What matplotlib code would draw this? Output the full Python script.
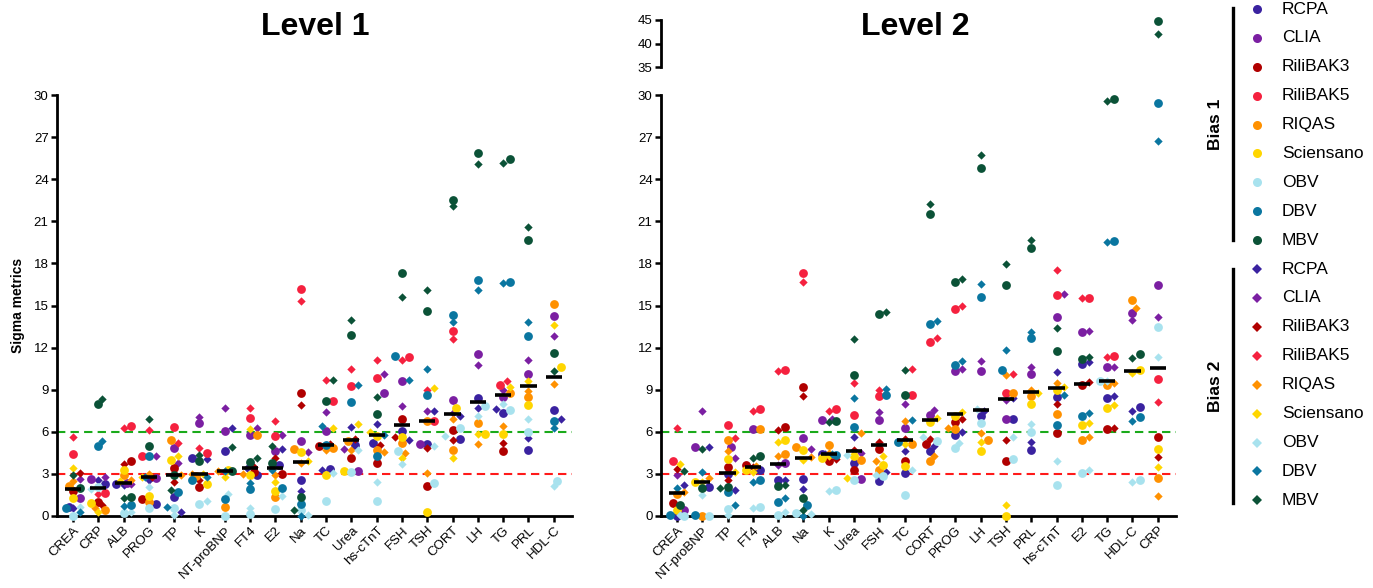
import numpy as np
import matplotlib
matplotlib.use("Agg")
from matplotlib import pyplot as plt
from matplotlib.lines import Line2D

plt.rcParams['font.family'] = ['Liberation Sans', 'DejaVu Sans']

nan = np.nan

sources = ["RCPA", "CLIA", "RiliBAK3", "RiliBAK5", "RIQAS", "Sciensano", "OBV", "DBV", "MBV"]
colors = ["#3a22a0", "#7b1fa2", "#b00000", "#f5213f", "#ff9100",
          "#ffd600", "#a8e2ee", "#0a76a0", "#0b5237"]

# level 1 analytes, one row per analyte, columns follow `sources`
level1_names = ["CREA", "CRP", "ALB", "PROG", "TP", "K", "NT-proBNP", "FT4", "E2", "Na",
                "TC", "Urea", "hs-cTnT", "FSH", "TSH", "CORT", "LH", "TG", "PRL", "HDL-C"]

level1_bias1 = [
    [0.65, 1.3, 1.8, 4.4, 2.15, 1.25, 0.0, 0.55, 2.0],
    [2.3, 2.65, 1.0, 1.65, 0.45, 0.9, 2.1, 5.0, 8.0],
    [2.3, 2.35, 3.9, 6.4, 2.9, 3.3, 0.2, 0.75, 1.35],
    [0.85, 2.7, 1.2, 4.3, 1.0, 1.4, 0.55, 4.3, 5.0],
    [1.35, 4.85, 3.45, 6.35, 5.4, 4.0, 0.55, 1.7, 2.9],
    [4.15, 6.65, 2.05, 4.5, 2.85, 2.25, 0.85, 2.6, 3.9],
    [4.65, 6.05, nan, nan, 0.65, 3.3, 0.0, 1.2, 3.2],
    [2.95, 5.75, 3.1, 7.0, 5.75, 2.9, 0.15, 1.95, 3.85],
    [3.6, 4.65, 3.0, 5.7, 1.35, 1.75, 0.5, 2.0, 3.8],
    [2.6, 5.35, 8.75, 16.2, 4.8, 4.55, 0.4, 0.85, 1.35],
    [3.35, 6.05, 5.0, 8.2, 4.85, 2.95, 1.1, 5.05, 8.2],
    [5.05, 3.2, 4.15, 9.25, 5.35, 3.2, 3.15, 8.1, 12.9],
    [5.2, 8.8, 3.8, 9.85, 4.7, 5.7, 1.1, 4.25, 7.3],
    [6.05, 9.6, 6.9, 11.35, 5.2, 5.6, 4.65, 11.4, 17.3],
    [5.15, 5.15, 2.15, 6.8, 6.75, 0.3, 2.35, 8.6, 14.6],
    [5.5, 8.25, 6.1, 13.15, 4.7, 7.7, 6.25, 14.35, 22.55],
    [8.4, 11.55, nan, nan, 6.6, 5.85, 7.85, 16.85, 25.85],
    [7.35, 8.5, 4.6, 9.35, 8.8, 5.85, 7.55, 16.65, 25.45],
    [4.7, 10.1, nan, nan, 8.5, 7.9, 6.0, 12.85, 19.65],
    [7.55, 14.25, nan, nan, 15.1, 10.6, 2.5, 6.8, 11.65],
]

level1_bias2 = [
    [0.55, 2.65, 3.05, 5.65, 2.5, 3.4, 0.65, 0.3, 2.95],
    [2.6, 2.75, 0.8, 1.6, 0.6, 0.25, 1.9, 5.35, 8.35],
    [2.2, 2.25, 3.7, 6.3, 2.6, 2.5, 0.25, 0.7, 1.3],
    [2.6, 4.3, 2.8, 6.1, 3.0, 2.75, 2.1, 2.8, 6.9],
    [0.3, 3.8, 2.4, 5.2, 2.95, 4.3, 0.05, 0.65, 1.85],
    [4.05, 7.05, 2.55, 4.85, 3.0, 3.0, 1.05, 2.75, 4.35],
    [6.3, 7.7, nan, nan, 3.2, 2.8, 1.55, 3.2, 4.95],
    [3.4, 6.25, 3.5, 7.7, 3.0, 6.2, 0.6, 2.35, 4.15],
    [4.75, 5.75, 4.15, 6.8, 2.95, 2.45, 1.45, 3.3, 5.0],
    [1.8, 4.55, 7.9, 15.35, 3.75, 3.9, 0.1, 0.0, 0.45],
    [3.3, 7.4, 5.1, 9.7, 4.7, 6.3, 3.05, 6.4, 9.7],
    [6.35, 4.75, 5.5, 10.45, 4.7, 6.55, 4.7, 9.35, 14.0],
    [6.55, 10.1, 5.05, 11.15, 4.55, 6.0, 2.45, 5.8, 8.5],
    [5.45, 7.85, 5.65, 11.1, 4.5, 4.15, 3.7, 9.7, 15.6],
    [7.45, 7.45, 4.85, 9.0, 3.05, 9.1, 5.0, 10.5, 16.1],
    [7.15, 7.35, 5.45, 12.6, 6.9, 4.15, 5.7, 13.8, 22.1],
    [7.7, 10.75, nan, nan, 5.15, 5.85, 7.15, 16.1, 25.1],
    [7.65, 9.0, 5.2, 9.6, 6.4, 9.2, 8.0, 16.6, 25.15],
    [5.55, 11.15, nan, nan, 8.9, 9.6, 6.9, 13.85, 20.6],
    [6.9, 12.8, nan, nan, 9.4, 13.6, 2.15, 6.25, 10.35],
]

level2_names = ["CREA", "NT-proBNP", "TP", "FT4", "ALB", "Na", "K", "Urea", "FSH", "TC",
                "CORT", "PROG", "LH", "TSH", "PRL", "hs-cTnT", "E2", "TG", "HDL-C", "CRP"]

level2_bias1 = [
    [0.0, 0.45, 0.95, 3.95, 1.6, 0.45, 0.0, 0.05, 0.8],
    [2.1, 4.95, nan, nan, 0.0, 2.45, 0.0, 0.05, 2.0],
    [3.0, 4.95, 3.5, 6.45, 5.45, 4.05, 0.5, 1.7, 2.05],
    [3.3, 6.2, 3.65, 7.6, 6.2, 3.3, 0.65, 2.55, 4.3],
    [2.55, 3.75, 6.35, 10.4, 4.4, 5.45, 0.05, 1.0, 2.15],
    [2.65, 5.55, 9.2, 17.3, 4.95, 4.7, 0.2, 0.8, 1.3],
    [4.45, 6.85, 3.9, 7.6, 5.05, 4.15, 1.85, 4.35, 6.75],
    [3.8, 2.65, 3.3, 7.2, 4.0, 4.3, 2.6, 6.35, 10.05],
    [2.5, 6.85, 4.75, 8.55, 3.3, 3.65, 2.85, 8.65, 14.4],
    [3.05, 6.3, 3.95, 8.6, 5.15, 3.55, 1.5, 5.3, 8.6],
    [4.65, 7.2, 5.15, 12.4, 3.9, 6.7, 5.35, 13.65, 21.5],
    [5.8, 10.3, 6.7, 14.75, 6.2, 7.15, 4.85, 10.75, 16.65],
    [7.15, 10.3, nan, nan, 5.4, 4.65, 6.65, 15.6, 24.8],
    [6.9, 6.9, 3.9, 8.8, 8.8, 0.0, 4.05, 10.4, 16.45],
    [4.7, 10.15, nan, nan, 8.55, 8.0, 6.0, 12.7, 19.1],
    [8.5, 14.15, 5.95, 15.75, 7.25, 9.0, 2.2, 6.45, 11.75],
    [10.8, 13.1, 9.3, 15.5, 5.45, 6.5, 3.05, 7.15, 11.2],
    [8.4, 10.6, 6.2, 11.4, 9.3, 7.7, 9.6, 19.6, 29.75],
    [7.75, 14.5, nan, nan, 15.4, 10.4, 2.6, 7.05, 11.55],
    [nan, 16.45, 5.6, 9.75, 2.7, 4.75, 13.45, 29.4, 44.8],
]

level2_bias2 = [
    [2.2, 2.9, 3.35, 6.25, 1.7, 3.7, 0.05, 2.0, 3.2],
    [4.95, 7.45, nan, nan, 2.7, 2.4, 1.5, 3.15, 4.8],
    [1.85, 4.1, 2.6, 5.55, 4.6, 3.1, 0.05, 0.75, 2.0],
    [3.3, 3.5, 3.5, 7.5, 3.55, 3.15, 0.6, 2.4, 4.1],
    [2.6, 3.65, 6.15, 10.3, 4.25, 5.25, 0.3, 1.3, 2.2],
    [1.9, 4.8, 8.55, 16.65, 4.2, 4.0, 0.15, 0.0, 0.45],
    [4.4, 6.9, 4.05, 7.5, 4.5, 4.3, 1.75, 4.4, 6.7],
    [5.65, 4.5, 4.7, 9.45, 5.95, 2.7, 4.35, 8.4, 12.6],
    [3.1, 7.4, 5.3, 8.95, 3.95, 4.25, 2.95, 9.05, 14.55],
    [4.65, 7.95, 5.5, 10.45, 6.8, 5.1, 3.3, 6.85, 10.4],
    [5.0, 7.55, 5.5, 12.65, 4.25, 6.95, 5.65, 13.9, 22.25],
    [6.0, 10.45, 6.9, 14.95, 6.3, 7.4, 5.2, 11.05, 16.9],
    [7.5, 11.05, nan, nan, 5.95, 5.25, 7.6, 16.55, 25.7],
    [8.4, 8.3, 5.45, 10.1, 10.05, 0.8, 5.6, 11.8, 17.95],
    [5.25, 10.6, nan, nan, 8.95, 8.75, 6.55, 13.1, 19.7],
    [10.25, 15.85, 8.0, 17.5, 9.5, 9.2, 3.9, 8.65, 13.4],
    [10.95, 13.15, 9.55, 15.5, 5.6, 6.65, 3.3, 7.35, 11.35],
    [8.55, 10.65, 6.25, 11.35, 9.45, 7.9, 9.65, 19.55, 29.55],
    [7.5, 13.95, nan, nan, 14.85, 10.2, 2.4, 6.8, 11.25],
    [nan, 14.15, 4.2, 8.1, 1.4, 3.5, 11.35, 26.7, 42.0],
]

W, H = 1373, 588
BREAK = 32


# spread overlapping points sideways, roughly like a graphpad scatter
def spread(values, step=0.14, px_x=25.3, px_y=14.0, radius=5.5):
    offsets = np.zeros(len(values))
    placed = []
    for idx in np.argsort(values):
        v = values[idx]
        if np.isnan(v):
            continue
        best, best_d = 0.0, -1
        for k in [0, 1, -1, 2, -2]:
            dx = k * step
            d = min([np.hypot((dx - px) * px_x, (v - py) * px_y) for px, py in placed] + [99])
            if d >= radius:
                best = dx
                break
            if d > best_d:
                best, best_d = dx, d
        offsets[idx] = best
        placed.append((best, v))
    return offsets


def style_axis(ax):
    for side in ["top", "right"]:
        ax.spines[side].set_visible(False)
    ax.spines["left"].set_linewidth(2)
    ax.spines["bottom"].set_linewidth(2)
    ax.tick_params(direction="out", length=4, width=1.8, labelsize=9.5, pad=2)


def draw_level(ax, names, bias1, bias2, ax_top=None):
    b1 = np.array(bias1, dtype=float)
    b2 = np.array(bias2, dtype=float)
    n = len(names)
    for i in range(n):
        vals = np.concatenate([b1[i], b2[i]])
        offs = spread(vals)
        for j in range(len(sources)):
            for k, marker, size in [(j, "o", 40), (j + 9, "D", 18)]:
                v = vals[k]
                if np.isnan(v):
                    continue
                target = ax_top if (ax_top is not None and v > BREAK) else ax
                target.scatter(i + offs[k], v, marker=marker, s=size, color=colors[j],
                               linewidths=0, zorder=3, clip_on=False)
        med = np.nanmedian(vals)
        ax.hlines(med, i - 0.32, i + 0.32, color="black", lw=2.6, zorder=5)

    ax.axhline(6, color="#1aaa1a", lw=1.5, ls=(0, (4, 2.5)), zorder=2)
    ax.axhline(3, color="#ff1a1a", lw=1.5, ls=(0, (4, 2.5)), zorder=2)
    ax.set_xlim(-0.63, n - 0.28)
    ax.set_ylim(0, 30)
    ax.set_yticks(range(0, 31, 3))
    ax.set_xticks(range(n))
    ax.set_xticklabels(names, rotation=45, ha="right", va="top",
                       rotation_mode="anchor", fontsize=11)
    style_axis(ax)


fig = plt.figure(figsize=(W / 100, H / 100), dpi=100)

ax1 = fig.add_axes([57 / W, 72 / H, 515 / W, 421 / H])
draw_level(ax1, level1_names, level1_bias1, level1_bias2)
ax1.set_ylabel("Sigma metrics", fontsize=10, fontweight="bold", labelpad=6)

ax2 = fig.add_axes([661 / W, 72 / H, 515 / W, 421 / H])
ax2t = fig.add_axes([661 / W, 521 / H, 515 / W, 47 / H])
draw_level(ax2, level2_names, level2_bias1, level2_bias2, ax_top=ax2t)

# upper piece of the broken axis
ax2t.set_xlim(ax2.get_xlim())
ax2t.set_ylim(35, 45)
ax2t.set_yticks([35, 40, 45])
style_axis(ax2t)
ax2t.spines["bottom"].set_visible(False)
ax2t.set_xticks([])

fig.text(315 / W, 1 - 27 / H, "Level 1", fontsize=23, fontweight="bold", ha="center", va="center")
fig.text(915 / W, 1 - 27 / H, "Level 2", fontsize=23, fontweight="bold", ha="center", va="center")

# legend drawn by hand so the rows line up with the bias brackets
labels = sources + sources
for r, lab in enumerate(labels):
    y = 1 - (9 + 28.9 * r) / H
    j = r % 9
    marker, ms = ("o", 6.5) if r < 9 else ("D", 5)
    fig.add_artist(Line2D([1257 / W], [y], marker=marker, markersize=ms, color=colors[j],
                          markeredgewidth=0, linestyle="none", transform=fig.transFigure))
    fig.text(1282 / W, y, lab, fontsize=12.5, va="center", ha="left")

for y0, y1, txt in [(8, 240, "Bias 1"), (269, 503, "Bias 2")]:
    fig.add_artist(Line2D([1233 / W, 1233 / W], [1 - y0 / H, 1 - y1 / H], color="black",
                          lw=2.4, transform=fig.transFigure))
    fig.text(1216 / W, 1 - (y0 + y1) / 2 / H, txt, rotation=90, fontsize=12.5,
             fontweight="bold", ha="center", va="center")

fig.savefig("out.png", dpi=100)
